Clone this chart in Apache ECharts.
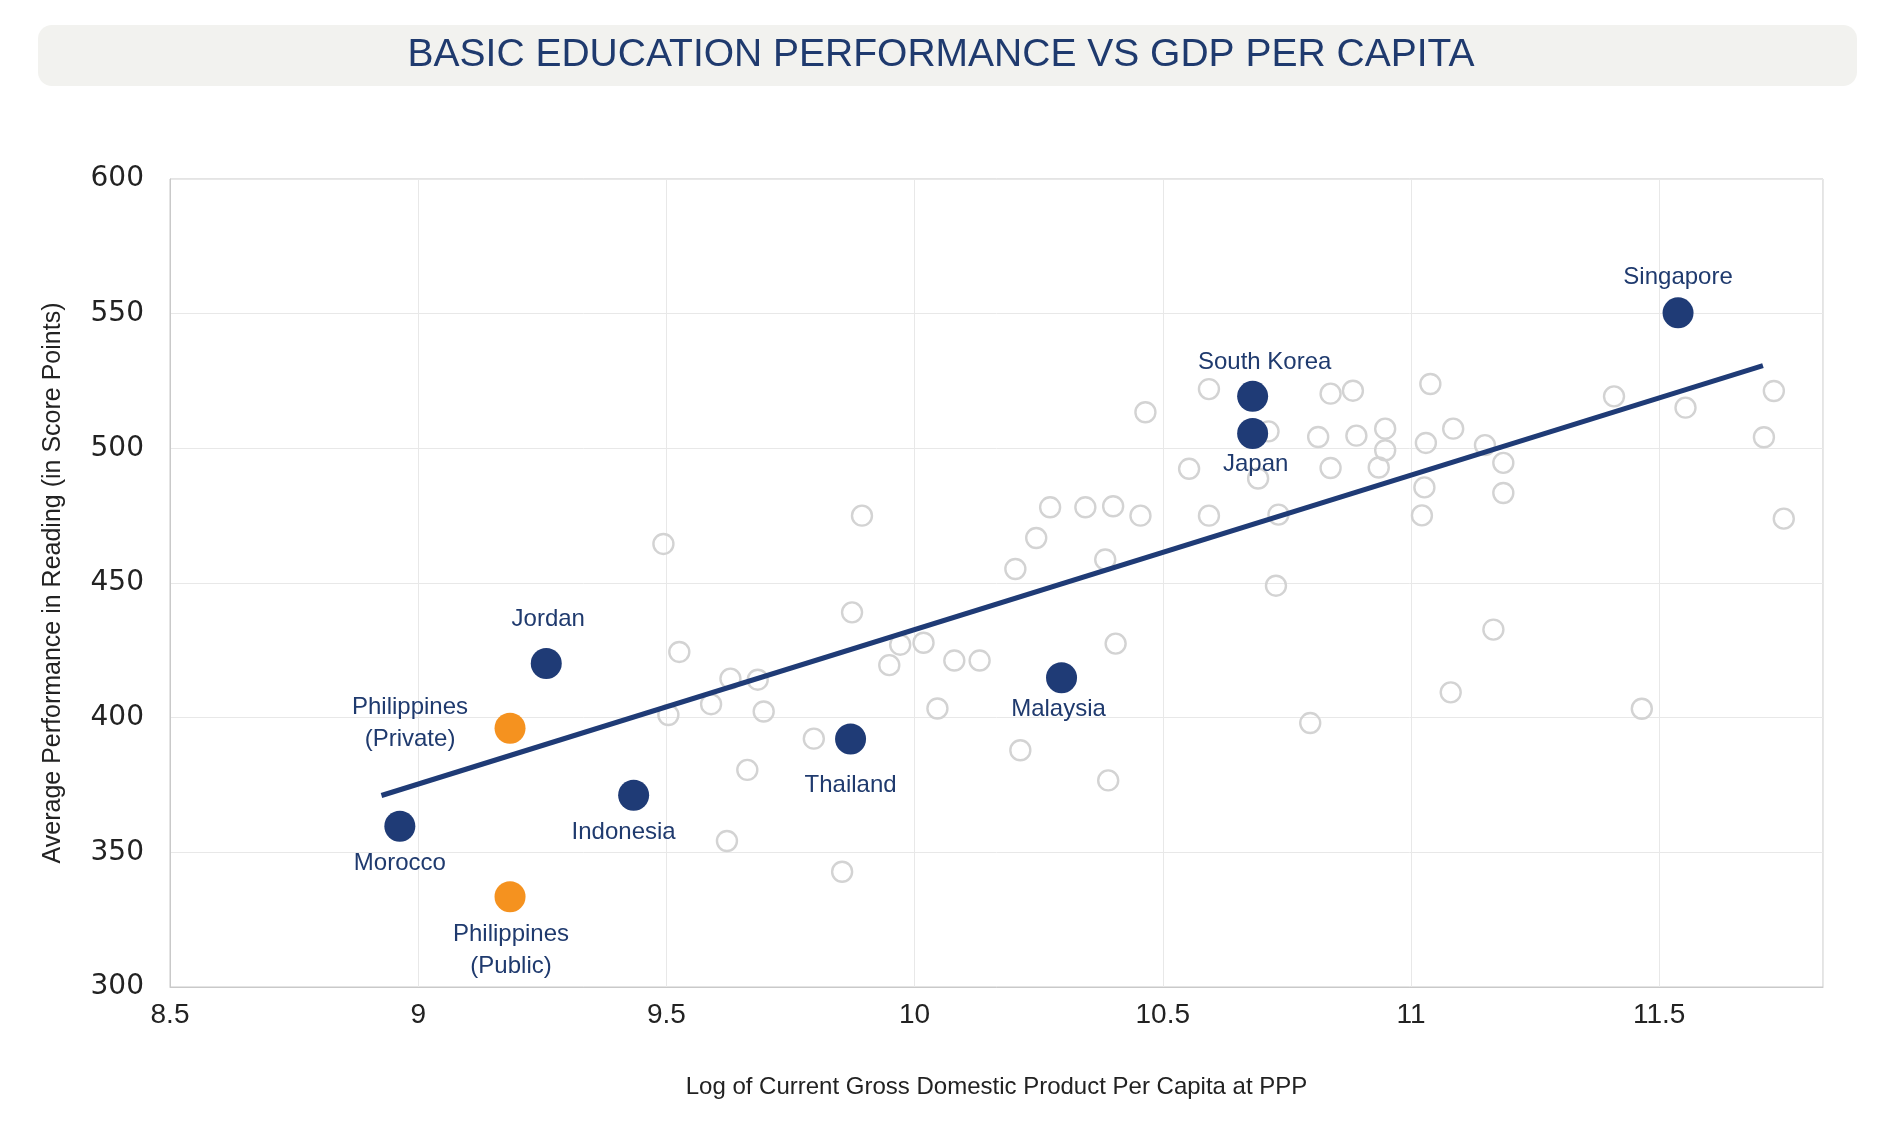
<!DOCTYPE html>
<html>
<head>
<meta charset="utf-8">
<title>Basic Education Performance vs GDP per Capita</title>
<script src="https://cdn.jsdelivr.net/npm/echarts@6/dist/echarts.min.js"></script>
<style>
  html, body { margin: 0; padding: 0; background: #fff; }
  #main { width: 1882px; height: 1127px; }
</style>
</head>
<body>
<div id="main"></div>
<script>
// other countries (grey open circles)
const otherX = [9.494, 9.894, 10.273, 10.344, 10.400, 10.455, 10.593, 10.733, 10.245, 10.203,
  10.384, 10.728, 9.874, 9.526, 9.971, 10.018, 9.949, 10.080, 10.131, 10.405,
  9.629, 9.684, 9.590, 9.504, 9.696, 10.046, 9.797, 10.213, 9.663, 10.390,
  9.622, 9.854, 10.465, 10.593, 10.838, 10.883, 11.039, 10.713, 10.813, 10.890,
  10.948, 10.948, 11.030, 11.085, 10.553, 10.692, 10.838, 10.935, 11.027, 11.022,
  11.149, 11.186, 11.186, 11.409, 11.553, 11.731, 11.711, 11.751, 11.166, 11.080,
  10.797, 11.465];
const otherY = [464.5, 475.0, 478.1, 478.1, 478.5, 475.0, 475.0, 475.4, 466.7, 455.2,
  458.7, 449.0, 439.1, 424.4, 427.1, 427.8, 419.5, 421.2, 421.2, 427.5,
  414.5, 414.1, 405.0, 401.0, 402.3, 403.4, 392.2, 387.9, 380.6, 376.7,
  354.2, 342.8, 513.4, 522.0, 520.3, 521.4, 523.9, 506.3, 504.2, 504.7,
  507.3, 499.3, 502.0, 507.3, 492.4, 488.8, 492.7, 492.9, 485.5, 475.1,
  501.2, 494.6, 483.4, 519.3, 515.1, 521.3, 504.1, 473.9, 432.7, 409.4,
  398.0, 403.3];

// highlighted countries
const focusNames = ['Singapore', 'South Korea', 'Japan', 'Jordan', 'Morocco', 'Indonesia', 'Thailand', 'Malaysia'];
const focusX = [11.538, 10.681, 10.681, 9.258, 8.963, 9.434, 9.871, 10.296];
const focusY = [550.3, 519.3, 505.5, 420.1, 359.7, 371.2, 392.1, 414.8];

// Philippines
const phNames = ['Philippines\n(Private)', 'Philippines\n(Public)'];
const phX = [9.185, 9.185];
const phY = [396.1, 333.5];

// fitted trend line end points
const trendX = [8.926, 11.709];
const trendY = [371.1, 530.7];

const xTicks = [8.5, 9, 9.5, 10, 10.5, 11, 11.5];

const NAVY = '#1f3b76';
const ORANGE = '#f5921f';
const FONT = 'Liberation Sans, Arial, sans-serif';

// label centre offsets from the dot centre (px)
const labelOffset = {
  'Singapore': [0, -35],
  'South Korea': [12, -34],
  'Japan': [3, 31],
  'Jordan': [2, -44],
  'Morocco': [0, 37],
  'Indonesia': [-10, 37],
  'Thailand': [0, 46],
  'Malaysia': [-3, 32],
  'Philippines\n(Private)': [-100, -5],
  'Philippines\n(Public)': [1, 54]
};

function buildPoints(names, xs, ys) {
  return names.map((n, i) => ({
    name: n,
    value: [xs[i], ys[i]],
    label: { offset: labelOffset[n] }
  }));
}

const pointLabel = {
  show: true,
  formatter: p => p.name,
  position: ['50%', '50%'],
  align: 'center',
  verticalAlign: 'middle',
  color: '#1f3a6e',
  fontFamily: FONT,
  fontSize: 24,
  lineHeight: 32
};

const myChart = echarts.init(document.getElementById('main'));
myChart.setOption({
  backgroundColor: '#ffffff',
  animation: false,
  graphic: [{
    type: 'rect',
    z: -1,
    shape: { x: 38, y: 25, width: 1819, height: 61, r: 14 },
    style: { fill: '#f2f2ef' }
  }],
  title: {
    text: 'BASIC EDUCATION PERFORMANCE VS GDP PER CAPITA',
    left: 'center',
    top: 36,
    padding: 0,
    textStyle: { color: '#1f3a6e', fontFamily: FONT, fontSize: 39, fontWeight: 'normal' }
  },
  grid: { left: 170, right: 59, top: 179, bottom: 140, show: true, borderColor: '#c9c9c9', borderWidth: 1 },
  xAxis: {
    type: 'value',
    min: 8.5,
    max: 11.83,
    interval: 0.5,
    name: 'Log of Current Gross Domestic Product Per Capita at PPP',
    nameLocation: 'middle',
    nameGap: 88,
    nameTextStyle: { color: '#222', fontFamily: FONT, fontSize: 24 },
    axisLine: { lineStyle: { color: '#c9c9c9' } },
    axisTick: { show: false },
    axisLabel: {
      color: '#222', fontFamily: FONT, fontSize: 28, margin: 14,
      formatter: v => xTicks.some(t => Math.abs(t - v) < 1e-6) ? String(v) : ''
    },
    splitLine: { lineStyle: { color: '#e8e8e8' } }
  },
  yAxis: {
    type: 'value',
    min: 300,
    max: 600,
    interval: 50,
    name: 'Average Performance in Reading (in Score Points)',
    nameLocation: 'middle',
    nameGap: 104,
    nameTextStyle: { color: '#222', fontFamily: FONT, fontSize: 25 },
    axisLine: { show: true, lineStyle: { color: '#c9c9c9' } },
    axisTick: { show: false },
    axisLabel: { color: '#222', fontFamily: 'DejaVu Sans, sans-serif', fontSize: 28, margin: 26 },
    splitLine: { lineStyle: { color: '#e8e8e8' } }
  },
  series: [
    {
      name: 'Other countries',
      type: 'scatter',
      symbol: 'circle',
      symbolSize: 20,
      itemStyle: { color: 'rgba(255,255,255,0)', borderColor: '#d3d3d3', borderWidth: 2.4, opacity: 1 },
      data: otherX.map((x, i) => [x, otherY[i]]),
      z: 2
    },
    {
      name: 'Trend',
      type: 'line',
      symbol: 'none',
      lineStyle: { color: NAVY, width: 5 },
      data: trendX.map((x, i) => [x, trendY[i]]),
      z: 3
    },
    {
      name: 'Selected',
      type: 'scatter',
      symbolSize: 31,
      itemStyle: { color: NAVY, opacity: 1 },
      label: pointLabel,
      data: buildPoints(focusNames, focusX, focusY),
      z: 4
    },
    {
      name: 'Philippines',
      type: 'scatter',
      symbolSize: 31,
      itemStyle: { color: ORANGE, opacity: 1 },
      label: pointLabel,
      data: buildPoints(phNames, phX, phY),
      z: 4
    }
  ]
});
</script>
</body>
</html>
